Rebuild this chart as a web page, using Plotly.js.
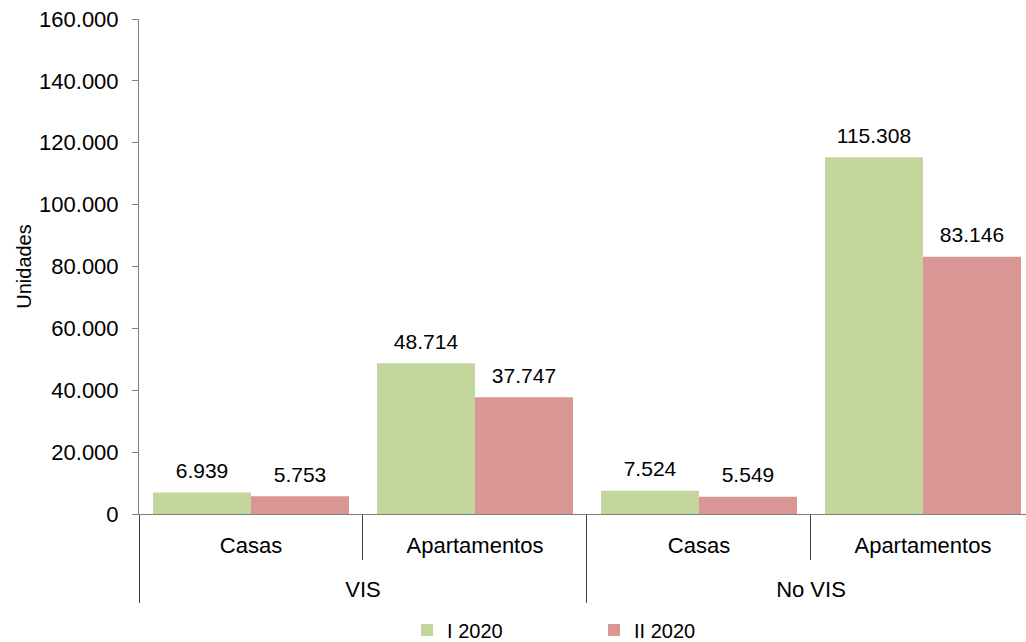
<!DOCTYPE html>
<html>
<head>
<meta charset="utf-8">
<script src="https://cdn.plot.ly/plotly-3.0.1.min.js"></script>
<style>html,body{margin:0;padding:0;background:#fff;}#chart{width:1026px;height:642px;}</style>
</head>
<body>
<div id="chart"></div>
<script>
const groups = ["VIS", "VIS", "No VIS", "No VIS"];
const types = ["Casas", "Apartamentos", "Casas", "Apartamentos"];
const seriesNames = ["I 2020", "II 2020"];
const valuesI2020 = [6939, 48714, 7524, 115308];
const valuesII2020 = [5753, 37747, 5549, 83146];
const colors = ["#c3d69b", "#d99694"];

const FONT = "Liberation Sans, Arial, sans-serif";
const FS = 22;

// inner labels get an empty first line so both label rows sit lower, as in the reference
const innerLabels = types.map(t => "\u00a0<br>" + t);

const allSeries = [valuesI2020, valuesII2020];

const barTraces = allSeries.map((vals, i) => ({
  type: "bar",
  name: seriesNames[i],
  x: [groups, innerLabels],
  y: vals,
  offsetgroup: String(i),
  marker: {color: colors[i], line: {width: 0}},
  hoverinfo: "skip"
}));

const labelTraces = allSeries.map((vals, i) => ({
  type: "scatter",
  mode: "markers+text",
  name: seriesNames[i] + " etiquetas",
  showlegend: false,
  x: [groups, innerLabels],
  y: vals,
  offsetgroup: String(i),
  marker: {size: 13, color: "rgba(0,0,0,0)"},
  text: vals,
  texttemplate: "%{y:,d}",
  textposition: "top center",
  textfont: {family: FONT, size: 21, color: "#000"},
  cliponaxis: false,
  hoverinfo: "skip"
}));

const layout = {
  width: 1026,
  height: 642,
  margin: {l: 139, r: 0, t: 19, b: 128, autoexpand: false},
  paper_bgcolor: "#fff",
  plot_bgcolor: "#fff",
  separators: ",.",
  font: {family: FONT, size: FS, color: "#000"},
  barmode: "group",
  bargap: 0.125,
  bargroupgap: 0,
  scattermode: "group",
  scattergap: 0.125,
  showlegend: true,
  legend: {
    orientation: "h",
    xref: "paper",
    x: 0.3022, xanchor: "left",
    yref: "paper",
    y: -0.2343, yanchor: "middle",
    entrywidth: 142,
    bgcolor: "rgba(0,0,0,0)",
    font: {family: FONT, size: 20, color: "#000"},
    traceorder: "normal"
  },
  xaxis: {
    type: "multicategory",
    automargin: false,
    range: [-0.5, 3.46],
    showline: true,
    linecolor: "#808080",
    linewidth: 1,
    ticks: "outside",
    tickson: "boundaries",
    ticklen: 45,
    tickcolor: "#404040",
    showdividers: true,
    dividercolor: "#404040",
    dividerwidth: 1,
    ticklabelstandoff: -17,
    tickfont: {family: FONT, size: FS, color: "#000"},
    showgrid: false,
    zeroline: false,
    fixedrange: true
  },
  yaxis: {
    automargin: false,
    range: [0, 160000],
    dtick: 20000,
    tick0: 0,
    tickformat: ",d",
    showline: true,
    linecolor: "#808080",
    linewidth: 1,
    ticks: "outside",
    ticklen: 6,
    tickcolor: "#808080",
    ticklabelstandoff: 9,
    tickfont: {family: FONT, size: FS, color: "#000"},
    showgrid: false,
    zeroline: false,
    title: {text: "Unidades", font: {family: FONT, size: 20, color: "#000"}, standoff: 2},
    fixedrange: true
  }
};

Plotly.newPlot("chart", barTraces.concat(labelTraces), layout, {displayModeBar: false, staticPlot: true});
</script>
</body>
</html>
